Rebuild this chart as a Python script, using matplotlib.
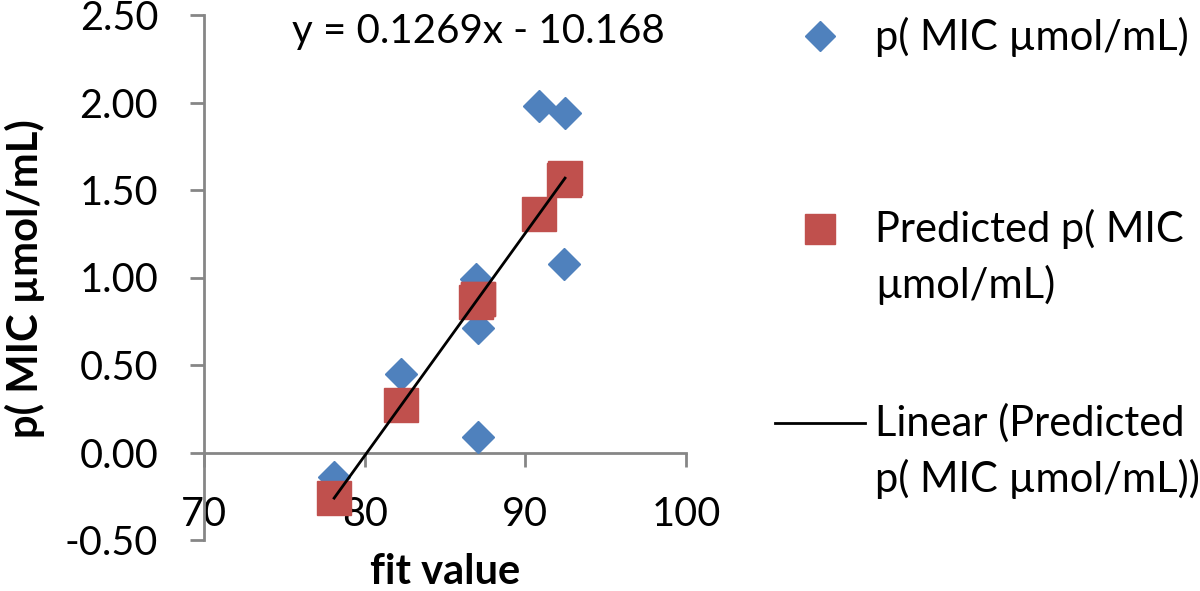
import numpy as np
import matplotlib
matplotlib.use("Agg")
import matplotlib.pyplot as plt
from matplotlib.lines import Line2D

plt.rcParams['font.family'] = ['Lato', 'DejaVu Sans']

# fit value vs p(MIC) -- observed and predicted
fit_value = [90.85, 92.47, 92.41, 86.90, 87.07, 82.27, 87.07, 78.10]
p_mic = [1.98, 1.94, 1.08, 0.99, 0.71, 0.45, 0.09, -0.14]
p_mic_pred = [1.36, 1.57, 1.56, 0.86, 0.88, 0.27, 0.88, -0.26]

y_ticks = [-0.5, 0.0, 0.5, 1.0, 1.5, 2.0, 2.5]
x_ticks = [70, 80, 90, 100]

blue = "#4F81BD"
red = "#C0504D"
grey = "#868686"
fs = 29
fs_bold = 30

fig = plt.figure(figsize=(12, 5.91), dpi=100)
ax = fig.add_axes([204/1200, 51/591, 482/1200, 525/591])

ax.plot(fit_value, p_mic, linestyle="none", marker="D", markersize=16, color=blue, zorder=3)
ax.plot(fit_value, p_mic_pred, linestyle="none", marker="s", markersize=24, color=red, zorder=4)

# linear trendline through predicted values
k, b = np.polyfit(fit_value, p_mic_pred, 1)
xs = np.array([min(fit_value), max(fit_value)])
ax.plot(xs, k * xs + b, color="black", linewidth=2, zorder=5)

ax.set_xlim(70, 100)
ax.set_ylim(-0.5, 2.5)
ax.set_xticks(x_ticks)
ax.set_yticks(y_ticks)
ax.set_yticklabels(["%.2f" % v for v in y_ticks])

ax.spines['top'].set_visible(False)
ax.spines['right'].set_visible(False)
ax.spines['bottom'].set_position(('data', 0))
for s in ['left', 'bottom']:
    ax.spines[s].set_color(grey)
    ax.spines[s].set_linewidth(2)
ax.tick_params(axis='both', colors=grey, labelcolor='black', labelsize=fs - 0.5,
               length=10, width=2, direction='out', pad=21)
ax.tick_params(axis='y', pad=23)
ax.patch.set_alpha(0)

fig.text(25/1200, 1 - 279/591, "p( MIC µmol/mL)", rotation=90, fontsize=fs_bold,
         fontweight='bold', ha='center', va='center')
fig.text(445/1200, 1 - 572/591, "fit value", fontsize=fs_bold, fontweight='bold',
         ha='center', va='center')
fig.text(478/1200, 1 - 32/591, "y = %.4fx - %.3f" % (0.1269, 10.168), fontsize=fs,
         ha='center', va='center')

# legend, drawn by hand so the handles sit on the first text line
def px(x, y):
    return x / 1200, 1 - y / 591

fig.add_artist(Line2D(*zip(px(820, 36)), marker="D", markersize=15, color=blue,
                      linestyle="none"))
fig.add_artist(Line2D(*zip(px(820, 229)), marker="s", markersize=22, color=red,
                      linestyle="none"))
fig.add_artist(Line2D([775/1200, 865/1200], [1 - 423/591] * 2, color="black", linewidth=2))

legend_lines = [("p( MIC µmol/mL)", 37), ("Predicted p( MIC", 229), ("µmol/mL)", 285),
                ("Linear (Predicted", 423), ("p( MIC µmol/mL))", 479)]
for txt, yy in legend_lines:
    fig.text(875/1200, 1 - yy/591, txt, fontsize=30, ha='left', va='center')

plt.savefig("out.png", dpi=100)
plt.close()
